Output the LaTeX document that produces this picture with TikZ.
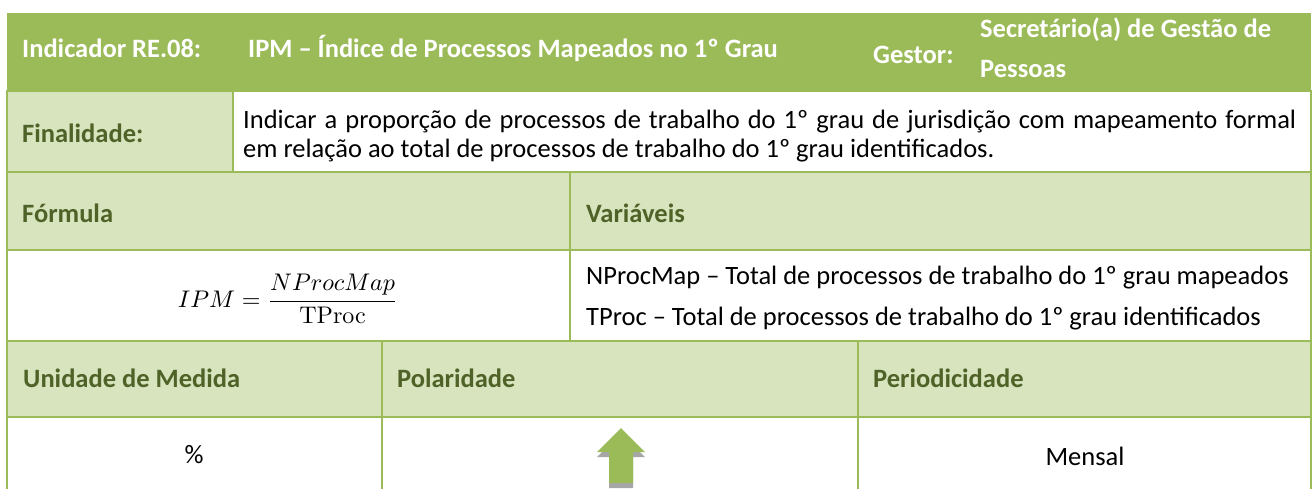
\documentclass[tikz,border=0pt]{standalone}
\usepackage[no-math]{fontspec}
\setmainfont{Carlito}
\definecolor{hdr}{HTML}{9BBB59}
\definecolor{lite}{HTML}{D7E4BD}
\definecolor{lbl}{HTML}{4F6228}
\definecolor{shd}{HTML}{A6A6A6}
\begin{document}
\begin{tikzpicture}[x=1pt,y=-1pt,
  grid/.style={draw=hdr, line width=2pt},
  body/.style={font=\fontsize{26.5}{32}\selectfont, text=black, inner sep=0pt},
  lab/.style={font=\fontsize{26.5}{32}\selectfont\bfseries, text=lbl, inner sep=0pt},
  head/.style={font=\fontsize{26.5}{32}\selectfont\bfseries, text=white, inner sep=0pt}]
\useasboundingbox (0,0) rectangle (1314,488);
% fills
\fill[hdr]  (7,13)  rectangle (1311,91);
\fill[lite] (7,91)  rectangle (233,172);
\fill[lite] (7,172) rectangle (1311,250);
\fill[lite] (7,341) rectangle (1311,417);
% grid lines
\draw[grid] (7,91) -- (7,490);
\draw[grid] (1311,91) -- (1311,490);
\draw[grid] (6,91) -- (1312,91);
\draw[grid] (6,172) -- (1312,172);
\draw[grid] (6,250) -- (1312,250);
\draw[grid] (6,341) -- (1312,341);
\draw[grid] (6,417) -- (1312,417);
\draw[grid] (233,91) -- (233,172);
\draw[grid] (570,172) -- (570,341);
\draw[grid] (382,341) -- (382,490);
\draw[grid] (858,341) -- (858,490);
% header
\node[head, anchor=base west] (ind)  at (22,57)  {Indicador RE.08:};
\node[head, anchor=base west] (nome) at (248,57) {IPM – Índice de Processos Mapeados no 1º Grau};
\node[head, anchor=base west] (gest) at (873,63) {Gestor:};
\node[head, anchor=base west] (gesa) at (980,37) {Secretário(a) de Gestão de};
\node[head, anchor=base west] (gesb) at (980,77) {Pessoas};
% finalidade
\node[lab, anchor=base west]  (finl) at (22,142)  {Finalidade:};
\node[body, anchor=base west] (fin1) at (243,128) {\makebox[1053pt][s]{Indicar a proporção de processos de trabalho do 1º grau de jurisdição com mapeamento formal}};
\node[body, anchor=base west] (fin2) at (243,157) {em relação ao total de processos de trabalho do 1º grau identificados.};
% formula
\node[lab, anchor=base west] (forl) at (22,222)  {Fórmula};
\node[lab, anchor=base west] (varl) at (586,222) {Variáveis};
\node[inner sep=0pt, anchor=base] (form) at (288,307) {\resizebox{220pt}{!}{$\displaystyle IPM = \frac{NProcMap}{\mathrm{TProc}}$}};
\node[body, anchor=base west] (var1) at (586,284) {NProcMap – Total de processos de trabalho do 1º grau mapeados};
\node[body, anchor=base west] (var2) at (586,325) {TProc – Total de processos de trabalho do 1º grau identificados};
% bottom
\node[lab, anchor=base west] (unil) at (23,387)  {Unidade de Medida};
\node[lab, anchor=base west] (poll) at (397,387) {Polaridade};
\node[lab, anchor=base west] (perl) at (873,387) {Periodicidade};
\node[body, anchor=base] (univ) at (194,463)  {\%};
\node[body, anchor=base] (perv) at (1085,465) {Mensal};
% polarity arrow
\fill[shd] (621,433) -- (645,457) -- (633,457) -- (633,488) -- (609,488) -- (609,457) -- (597,457) -- cycle;
\fill[hdr] (621,428) -- (645,452) -- (633,452) -- (633,483) -- (609,483) -- (609,452) -- (597,452) -- cycle;
\end{tikzpicture}
\end{document}
